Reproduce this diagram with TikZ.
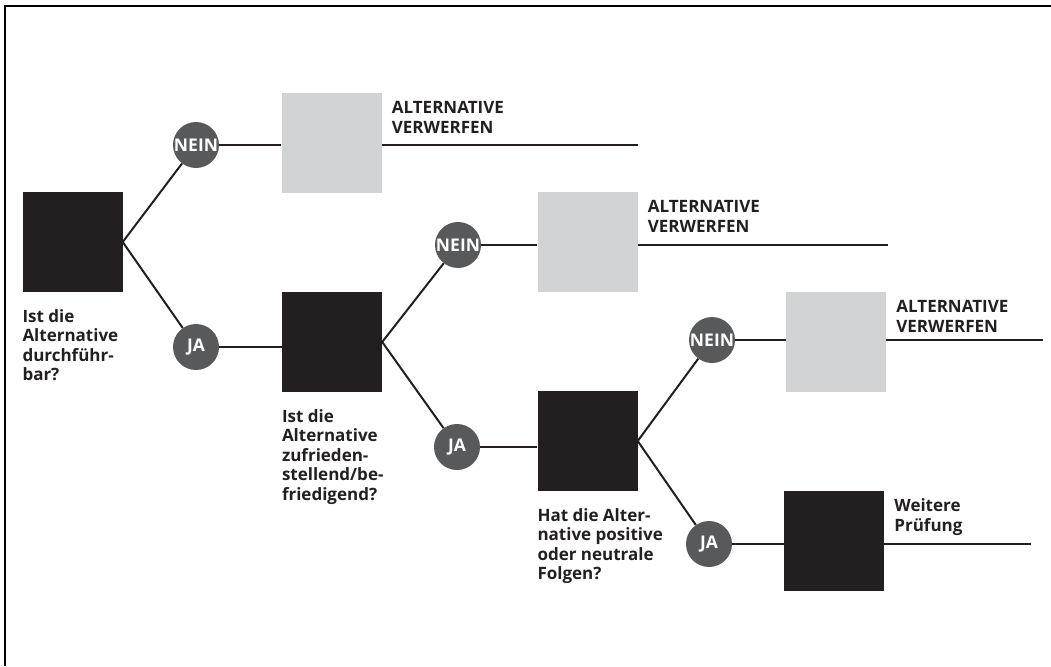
\documentclass[tikz,border=0pt]{standalone}
\usepackage{fontspec}
\setmainfont{Open Sans}
\definecolor{inkblack}{HTML}{231F20}
\definecolor{paleg}{HTML}{D1D3D4}
\definecolor{discgray}{HTML}{58595B}
\begin{document}
\begin{tikzpicture}[x=1pt,y=-1pt,
  link/.style={line width=2pt, draw=inkblack},
  frameline/.style={line width=2pt, draw=black},
  decision/.style={fill=inkblack, minimum size=100pt, inner sep=0pt},
  outcome/.style={fill=paleg, minimum size=100pt, inner sep=0pt},
  answer/.style={circle, fill=discgray, minimum size=46pt, inner sep=0pt,
    text=white, font=\bfseries\fontsize{17.5}{17.5}\selectfont},
  question/.style={anchor=north west, align=left, inner sep=0pt, text=inkblack,
    font=\bfseries\fontsize{17}{19.5}\selectfont},
  verdict/.style={anchor=north west, align=left, inner sep=0pt, text=inkblack,
    font=\bfseries\fontsize{17}{20}\selectfont}]
\useasboundingbox (0,0) rectangle (1051,666);

% open frame: top and left rules only
\coordinate (fTL) at (5,6);
\coordinate (fTR) at (1051,6);
\coordinate (fBL) at (5,666);
\draw[frameline] (fTR) -- (fTL) -- (fBL);

% decision boxes (black) and rejection boxes (grey)
\node[decision] (d1) at (72.5,242) {};
\node[outcome]  (g1) at (331.5,143) {};
\node[decision] (d2) at (332,342) {};
\node[outcome]  (g2) at (587.5,242) {};
\node[decision] (d3) at (587.5,441) {};
\node[outcome]  (g3) at (836,342) {};
\node[decision] (d4) at (834,541) {};

% answer discs
\node[answer] (n1) at (196,145) {NEIN};
\node[answer] (j1) at (196,347) {JA};
\node[answer] (n2) at (458,245) {NEIN};
\node[answer] (j2) at (457,447) {JA};
\node[answer] (n3) at (712,340) {NEIN};
\node[answer] (j3) at (709,544) {JA};

% free ends of the outgoing rules
\coordinate (e1) at (638,145);
\coordinate (e2) at (888,245);
\coordinate (e3) at (1043,340);
\coordinate (e4) at (1031,544);

% branches
\draw[link] (d1.east) -- (n1);
\draw[link] (d1.east) -- (j1);
\draw[link] (d2.east) -- (n2);
\draw[link] (d2.east) -- (j2);
\draw[link] (d3.east) -- (n3);
\draw[link] (d3.east) -- (j3);

% horizontal rules through the boxes
\draw[link] (n1) -- (n1 -| g1.west);
\draw[link] (n1 -| g1.east) -- (e1);
\draw[link] (j1) -- (j1 -| d2.west);
\draw[link] (n2) -- (n2 -| g2.west);
\draw[link] (n2 -| g2.east) -- (e2);
\draw[link] (j2) -- (j2 -| d3.west);
\draw[link] (n3) -- (n3 -| g3.west);
\draw[link] (n3 -| g3.east) -- (e3);
\draw[link] (j3) -- (j3 -| d4.west);
\draw[link] (j3 -| d4.east) -- (e4);

% questions under the decision boxes
\node[question] (q1) at ([yshift=-17pt]d1.south west) {Ist die\\Alternative\\durchführ-\\bar?};
\node[question] (q2) at ([yshift=-17pt]d2.south west) {Ist die\\Alternative\\zufrieden-\\stellend/be-\\friedigend?};
\node[question] (q3) at ([yshift=-17pt]d3.south west) {Hat die Alter-\\native positive\\oder neutrale\\Folgen?};

% outcome labels
\node[verdict] (v1) at ([xshift=10pt,yshift=-8pt]g1.north east) {ALTERNATIVE\\VERWERFEN};
\node[verdict] (v2) at ([xshift=10pt,yshift=-8pt]g2.north east) {ALTERNATIVE\\VERWERFEN};
\node[verdict] (v3) at ([xshift=10pt,yshift=-8pt]g3.north east) {ALTERNATIVE\\VERWERFEN};
\node[verdict] (v4) at ([xshift=10pt,yshift=-8pt]d4.north east) {Weitere\\Prüfung};
\end{tikzpicture}
\end{document}
